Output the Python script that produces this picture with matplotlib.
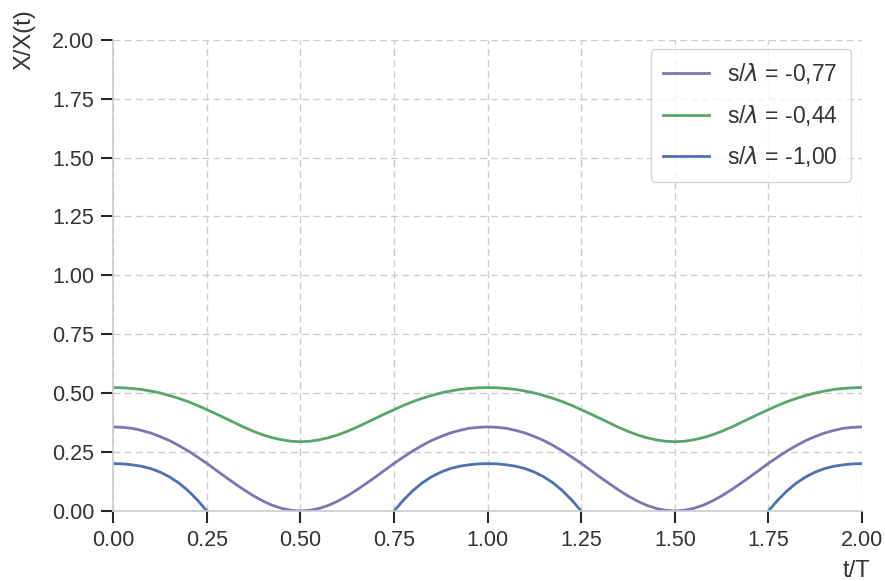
import numpy as np
import matplotlib
matplotlib.use("Agg")
import matplotlib.pyplot as plt
import matplotlib.ticker as mtick

# t/T sample points (step 0.025) and values
t = [round(0.025 * i, 3) for i in range(81)]

purple_vals = [0.357, 0.355, 0.351, 0.342, 0.331, 0.316, 0.299, 0.278, 0.255, 0.229, 0.202,
               0.173, 0.144, 0.116, 0.089, 0.064, 0.042, 0.024, 0.011, 0.003, 0.000,
               0.003, 0.011, 0.024, 0.042, 0.064, 0.089, 0.116, 0.144, 0.173, 0.202,
               0.229, 0.255, 0.278, 0.299, 0.316, 0.331, 0.342, 0.351, 0.355, 0.357,
               0.355, 0.351, 0.342, 0.331, 0.316, 0.299, 0.278, 0.255, 0.229, 0.202,
               0.173, 0.144, 0.116, 0.089, 0.064, 0.042, 0.024, 0.011, 0.003, 0.000,
               0.003, 0.011, 0.024, 0.042, 0.064, 0.089, 0.116, 0.144, 0.173, 0.202,
               0.229, 0.255, 0.278, 0.299, 0.316, 0.331, 0.342, 0.351, 0.355, 0.357]
green_vals = [0.524, 0.523, 0.520, 0.516, 0.509, 0.501, 0.490, 0.478, 0.464, 0.448, 0.430,
              0.412, 0.393, 0.374, 0.355, 0.338, 0.323, 0.311, 0.302, 0.296, 0.294,
              0.296, 0.302, 0.311, 0.323, 0.338, 0.355, 0.374, 0.393, 0.412, 0.430,
              0.448, 0.464, 0.478, 0.490, 0.501, 0.509, 0.516, 0.520, 0.523, 0.524,
              0.523, 0.520, 0.516, 0.509, 0.501, 0.490, 0.478, 0.464, 0.448, 0.430,
              0.412, 0.393, 0.374, 0.355, 0.338, 0.323, 0.311, 0.302, 0.296, 0.294,
              0.296, 0.302, 0.311, 0.323, 0.338, 0.355, 0.374, 0.393, 0.412, 0.430,
              0.448, 0.464, 0.478, 0.490, 0.501, 0.509, 0.516, 0.520, 0.523, 0.524]
nan = np.nan
blue_vals = [0.201, 0.200, 0.196, 0.190, 0.180, 0.165, 0.145, 0.119, 0.086, 0.046, 0.000,
             nan, nan, nan, nan, nan, nan, nan, nan, nan, nan,
             nan, nan, nan, nan, nan, nan, nan, nan, nan, 0.000,
             0.046, 0.086, 0.119, 0.145, 0.165, 0.180, 0.190, 0.196, 0.200, 0.201,
             0.200, 0.196, 0.190, 0.180, 0.165, 0.145, 0.119, 0.086, 0.046, 0.000,
             nan, nan, nan, nan, nan, nan, nan, nan, nan, nan,
             nan, nan, nan, nan, nan, nan, nan, nan, nan, 0.000,
             0.046, 0.086, 0.119, 0.145, 0.165, 0.180, 0.190, 0.196, 0.200, 0.201]

labels = [r"s/$\lambda$ = -0,77", r"s/$\lambda$ = -0,44", r"s/$\lambda$ = -1,00"]
COLORS = ["#8172B3", "#55A868", "#4C72B0"]
TEXT_COLOR = '#333333'
TICK_SIZE = 15.5
LABEL_SIZE = 17
LEGEND_SIZE = 16.5

plt.rcParams['font.family'] = ['Liberation Sans', 'DejaVu Sans']
plt.rcParams['mathtext.fontset'] = 'dejavusans'

fig = plt.figure(figsize=(8.85, 5.81), dpi=100)
ax = fig.add_axes([0.128, 0.1205, 0.846, 0.811])

for vals, lab, col in zip([purple_vals, green_vals, blue_vals], labels, COLORS):
    ax.plot(t, vals, color=col, linewidth=2.0, label=lab)

ax.set_xlim(0, 2)
ax.set_ylim(0, 2)
ax.set_xticks(np.arange(0, 2.01, 0.25))
ax.set_yticks(np.arange(0, 2.01, 0.25))
ax.xaxis.set_major_formatter(mtick.FormatStrFormatter('%.2f'))
ax.yaxis.set_major_formatter(mtick.FormatStrFormatter('%.2f'))
ax.grid(True, linestyle=(0, (5, 3)), color='#cccccc', linewidth=1.0)
ax.set_axisbelow(True)

for s in ['top', 'right']:
    ax.spines[s].set_visible(False)
for s in ['left', 'bottom']:
    ax.spines[s].set_color('#cccccc')
    ax.spines[s].set_linewidth(1.2)
ax.tick_params(axis='both', colors='#262626', labelcolor=TEXT_COLOR, labelsize=TICK_SIZE,
               length=8.5, width=1.5, direction='out', pad=5)

ax.set_ylabel("X/X(t)", fontsize=LABEL_SIZE, color=TEXT_COLOR)
ax.yaxis.set_label_coords(-0.104, 1.0)
ax.set_xlabel("t/T", fontsize=LABEL_SIZE, color=TEXT_COLOR)
ax.xaxis.set_label_coords(0.993, -0.104)

leg = ax.legend(loc='upper right', bbox_to_anchor=(0.985, 0.981), fontsize=LEGEND_SIZE,
                frameon=True, handlelength=2.0, handletextpad=0.8,
                labelspacing=0.72, borderpad=0.55, borderaxespad=0.0)
leg.get_frame().set_edgecolor('#cccccc')
leg.get_frame().set_linewidth(1.0)
for txt in leg.get_texts():
    txt.set_color(TEXT_COLOR)

fig.savefig("out.png", dpi=100)
